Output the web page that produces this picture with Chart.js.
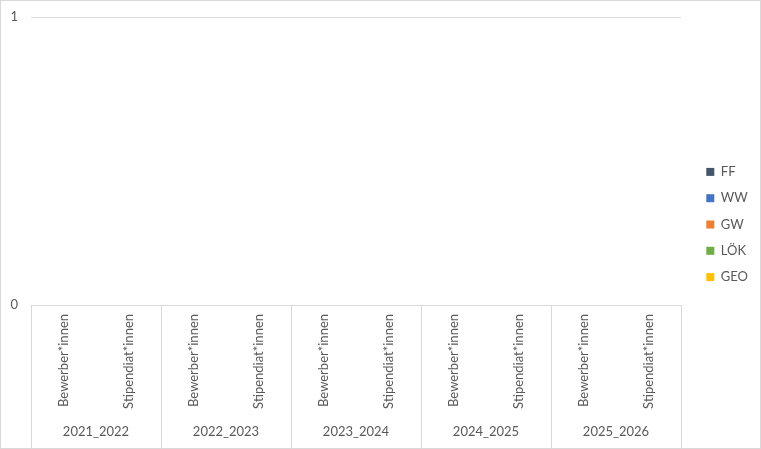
<!DOCTYPE html>
<html>
<head>
<meta charset="utf-8">
<script src="https://cdn.jsdelivr.net/npm/chart.js@4/dist/chart.umd.min.js"></script>
<style>
html,body{margin:0;padding:0;background:#fff;}
#wrap{width:761px;height:449px;position:relative;}
</style>
</head>
<body>
<div id="wrap"><canvas id="c" width="761" height="449"></canvas></div>
<script>
const years = ['2021_2022','2022_2023','2023_2024','2024_2025','2025_2026'];
const roles = ['Bewerber*innen','Stipendiat*innen'];
const seriesNames = ['FF','WW','GW','LÖK','GEO'];
const seriesColors = ['#44546A','#4472C4','#ED7D31','#70AD47','#FFC000'];
const FF  = [0,0,0,0,0,0,0,0,0,0];
const WW  = [0,0,0,0,0,0,0,0,0,0];
const GW  = [0,0,0,0,0,0,0,0,0,0];
const LOK = [0,0,0,0,0,0,0,0,0,0];
const GEO = [0,0,0,0,0,0,0,0,0,0];
const yTicks = [0,1];

const labels = [];
years.forEach(() => roles.forEach(r => labels.push(r)));
const seriesValues = [FF, WW, GW, LOK, GEO];

const FONT = 'Lato';
const TXT = '#595959';
const GRID = '#d9d9d9';

const groupPlugin = {
  id: 'groups',
  afterDraw(chart) {
    const ctx = chart.ctx;
    const x = chart.scales.x;
    const area = chart.chartArea;
    const step = x.getPixelForValue(1) - x.getPixelForValue(0);
    ctx.save();
    ctx.strokeStyle = GRID;
    ctx.lineWidth = 1;
    for (let g = 0; g <= years.length; g++) {
      const px = Math.round(x.getPixelForValue(g * 2) - step / 2) + 0.5;
      ctx.beginPath();
      ctx.moveTo(px, area.bottom);
      ctx.lineTo(px, chart.height);
      ctx.stroke();
    }
    ctx.fillStyle = TXT;
    ctx.font = '13px ' + FONT;
    ctx.textAlign = 'center';
    ctx.textBaseline = 'middle';
    years.forEach((y, g) => {
      const cx = (x.getPixelForValue(g * 2) + x.getPixelForValue(g * 2 + 1)) / 2;
      ctx.fillText(y, cx, 432);
    });
    ctx.strokeRect(0.5, 0.5, chart.width - 1, chart.height - 1);
    ctx.restore();
  }
};

new Chart(document.getElementById('c'), {
  type: 'bar',
  data: {
    labels: labels,
    datasets: seriesNames.map((n, i) => ({
      label: n,
      data: seriesValues[i],
      backgroundColor: seriesColors[i],
      borderWidth: 0
    }))
  },
  options: {
    responsive: false,
    animation: false,
    devicePixelRatio: 1,
    layout: { padding: { top: 17, bottom: 17, left: 0, right: 3 } },
    plugins: {
      legend: {
        position: 'right',
        labels: {
          boxWidth: 8, boxHeight: 8, padding: 13.3,
          color: TXT, font: { family: FONT, size: 13 }
        }
      },
      tooltip: { enabled: false }
    },
    scales: {
      x: {
        stacked: true,
        grid: { display: false, drawTicks: false },
        border: { display: false },
        ticks: {
          minRotation: 90, maxRotation: 90, autoSkip: false, padding: 9,
          color: TXT, font: { family: FONT, size: 13 }
        },
        afterFit(s) { s.height = 127; s.paddingLeft = 0; s.paddingRight = 0; }
      },
      y: {
        stacked: true,
        min: 0, max: 1,
        afterBuildTicks(s) { s.ticks = yTicks.map(v => ({ value: v })); },
        grid: { color: GRID, drawTicks: false },
        border: { display: false },
        ticks: { padding: 13, color: TXT, font: { family: FONT, size: 13 } },
        afterFit(s) { s.width = 31; s.paddingTop = 0; s.paddingBottom = 0; }
      },
      y2: {
        position: 'right',
        display: true,
        grid: { display: false, drawTicks: false },
        border: { display: false },
        ticks: { display: false },
        afterFit(s) { s.width = 12; s.paddingTop = 0; s.paddingBottom = 0; }
      }
    }
  },
  plugins: [groupPlugin]
});
</script>
</body>
</html>
